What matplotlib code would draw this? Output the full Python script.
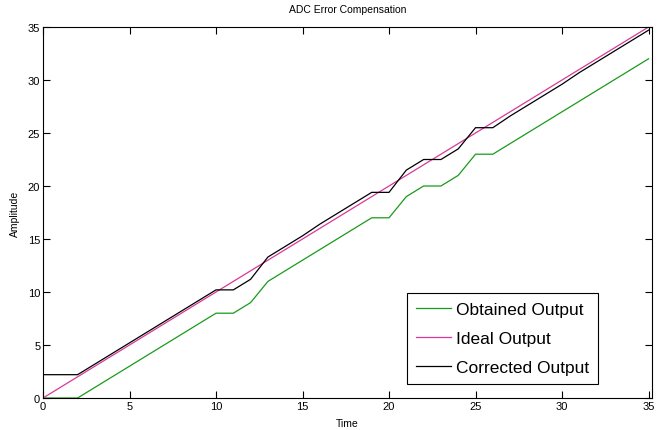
import matplotlib
matplotlib.use("Agg")
import matplotlib.pyplot as plt
from matplotlib import font_manager

names = {f.name for f in font_manager.fontManager.ttflist}
fam = ['Liberation Sans Narrow', 'Liberation Sans', 'DejaVu Sans'] if 'Liberation Sans Narrow' in names else ['Liberation Sans', 'DejaVu Sans']
plt.rcParams['font.family'] = fam

time = list(range(0, 36))
ideal = [float(t) for t in time]
obtained = [0, 0, 0, 1, 2, 3, 4, 5, 6, 7, 8, 8, 9, 11, 12, 13, 14, 15, 16, 17,
            17, 19, 20, 20, 21, 23, 23, 24, 25, 26, 27, 28, 29, 30, 31, 32]
corrected = [2.2, 2.2, 2.2, 3.2, 4.2, 5.2, 6.2, 7.2, 8.2, 9.2, 10.2, 10.2, 11.2,
             13.3, 14.3, 15.3, 16.4, 17.4, 18.4, 19.4, 19.4, 21.5, 22.5, 22.5,
             23.5, 25.5, 25.5, 26.6, 27.6, 28.6, 29.6, 30.7, 31.7, 32.7, 33.7, 34.7]
xticks = [0, 5, 10, 15, 20, 25, 30, 35]
yticks = [0, 5, 10, 15, 20, 25, 30, 35]

fig = plt.figure(figsize=(6.62, 4.31), dpi=100)
ax = fig.add_axes([43/662, 32/431, 609/662, 371/431])
ax.plot(time, obtained, color='#1a9a1a', lw=0.9, label='Obtained Output')
ax.plot(time, ideal, color='#d8389a', lw=0.9, label='Ideal Output')
ax.plot(time, corrected, color='black', lw=0.9, label='Corrected Output')
ax.set_xlim(0, 35.2)
ax.set_ylim(0, 35)
ax.set_xticks(xticks)
ax.set_yticks(yticks)
ax.tick_params(direction='in', top=True, right=True, length=5, width=0.8, labelsize=8, pad=2)
for s in ax.spines.values():
    s.set_linewidth(0.8)
ax.set_title('ADC Error Compensation', fontsize=7.5, pad=11)
ax.set_xlabel('Time', fontsize=7.5, labelpad=5)
ax.set_ylabel('Amplitude', fontsize=7.5, labelpad=6)
leg = ax.legend(loc='lower left', bbox_to_anchor=(0.598, 0.038), fontsize=12.5,
                fancybox=False, framealpha=1, edgecolor='black', borderaxespad=0,
                handlelength=2.0, handletextpad=0.3, labelspacing=0.8, borderpad=0.5)
leg.get_frame().set_linewidth(0.8)
fig.savefig('out.png', dpi=100)
